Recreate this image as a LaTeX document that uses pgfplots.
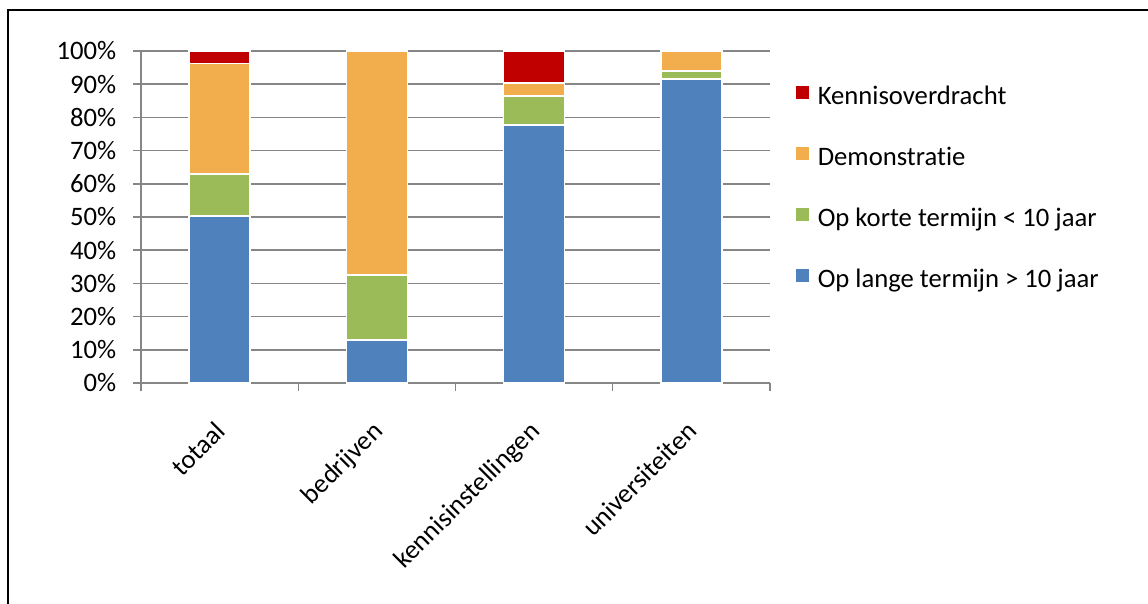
\documentclass[border=0pt]{standalone}
\usepackage{pgfplots}
\pgfplotsset{compat=1.18}
\usepackage{fontspec}
\setmainfont{Carlito}[Ligatures=NoCommon]
\definecolor{cblue}{HTML}{4F81BD}
\definecolor{cgreen}{HTML}{9BBB59}
\definecolor{corange}{HTML}{F2AE4C}
\definecolor{cred}{HTML}{C00000}
\definecolor{cgrid}{HTML}{868686}
\newcommand{\fs}{\fontsize{20}{24}\selectfont}
\begin{document}
\begin{tikzpicture}
\useasboundingbox (0pt,0pt) rectangle (861pt,452.25pt);
\draw[line width=1.6pt] (6pt,-4pt) -- (6pt,444.75pt) -- (865pt,444.75pt);
\begin{axis}[
  at={(105.75pt,165pt)}, anchor=south west,
  scale only axis, width=471.75pt, height=249pt,
  ybar stacked, bar width=45.75pt,
  xmin=-0.5, xmax=3.5, ymin=0, ymax=100,
  axis x line*=bottom, axis y line*=left,
  axis line style={cgrid, line width=1.1pt},
  xtick={0,1,2,3},
  xticklabels={totaal,bedrijven,kennisinstellingen,universiteiten},
  minor xtick={-0.5,0.5,1.5,2.5,3.5},
  major x tick style={draw=none},
  minor x tick style={cgrid, line width=1.1pt},
  minor tick length=6pt,
  ytick={0,10,...,100},
  yticklabels={0\%,10\%,20\%,30\%,40\%,50\%,60\%,70\%,80\%,90\%,100\%},
  y tick style={cgrid, line width=1.1pt},
  major tick length=6pt,
  tick align=outside,
  ymajorgrids, grid style={cgrid, line width=1.1pt},
  ticklabel style={font=\fs},
  xticklabel style={xshift=-4.5pt, yshift=-20pt, rotate=45, anchor=north east, inner sep=1pt},
  yticklabel style={xshift=-9pt},
  reverse legend,
  legend style={at={(1.041,0.583)}, anchor=west, draw=none, fill=none,
    inner sep=0pt, row sep=28pt, column sep=0pt, font=\fs,
    nodes={inner sep=0pt, text height=13pt, text depth=4pt}},
  legend cell align=left,
  legend image code/.code={\fill[#1,draw=none] (0pt,-0.3pt) rectangle (9.75pt,9.45pt); \path (9.75pt,0) -- (15.75pt,0);},
  every axis plot/.append style={draw=white, line width=1.1pt},
]
\addplot[fill=cblue] coordinates {(0,50.3) (1,13.0) (2,77.7) (3,91.6)};
\addplot[fill=cgreen] coordinates {(0,12.7) (1,19.5) (2,8.7) (3,2.4)};
\addplot[fill=corange] coordinates {(0,33.3) (1,67.5) (2,3.9) (3,6.0)};
\addplot[fill=cred] coordinates {(0,3.7) (1,0) (2,9.7) (3,0)};
\legend{Op lange termijn > 10 jaar, Op korte termijn < 10 jaar, Demonstratie, Kennisoverdracht}
\end{axis}
\end{tikzpicture}
\end{document}
